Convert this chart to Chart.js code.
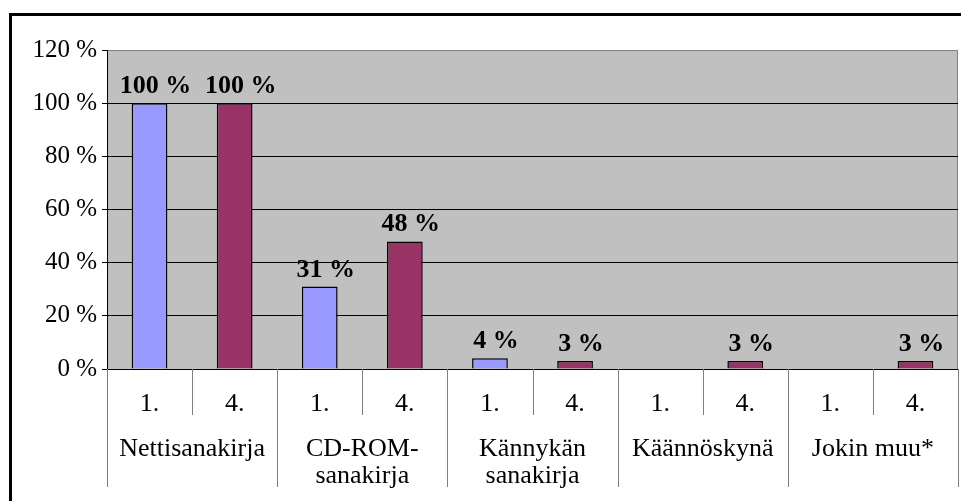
<!DOCTYPE html>
<html>
<head>
<meta charset="utf-8">
<script src="https://cdn.jsdelivr.net/npm/chart.js@4.4.1/dist/chart.umd.min.js"></script>
<style>
  html, body { margin: 0; padding: 0; background: #fff; overflow: hidden; }
  #wrap { position: relative; width: 961px; height: 501px; }
  #frame {
    position: absolute; left: 9px; top: 13px; width: 2000px; height: 2000px;
    border-top: 3px solid #000; border-left: 3px solid #000; pointer-events: none;
  }
</style>
</head>
<body>
<div id="wrap">
  <canvas id="chart" width="961" height="501"></canvas>
  <div id="frame"></div>
</div>
<script>
// data
const subLabels = ["1.", "4.", "1.", "4.", "1.", "4.", "1.", "4.", "1.", "4."];
const groupLabels = ["Nettisanakirja", ["CD-ROM-", "sanakirja"], ["Kännykän", "sanakirja"], "Käännöskynä", "Jokin muu*"];
const firstYear = [100, null, 31, null, 4, null, null, null, null, null];
const fourthYear = [null, 100, null, 48, null, 3, null, 3, null, 3];
const yTicks = [0, 20, 40, 60, 80, 100, 120];

const serif = "'Liberation Serif', 'Times New Roman', serif";
const groupLineLen = 72;

// gray plot area with gray frame
const plotBg = {
  id: "plotBg",
  beforeDraw(chart) {
    const { ctx, chartArea: a } = chart;
    ctx.save();
    ctx.fillStyle = "#c0c0c0";
    ctx.fillRect(a.left, a.top, a.right - a.left, a.bottom - a.top);
    ctx.strokeStyle = "#808080";
    ctx.lineWidth = 1;
    ctx.strokeRect(a.left + 0.5, a.top + 0.5, a.right - a.left - 1, a.bottom - a.top);
    ctx.restore();
  }
};

// category divider lines under the plot
const dividers = {
  id: "dividers",
  afterDraw(chart) {
    const { ctx } = chart;
    const xs = chart.scales.x;
    const x2 = chart.scales.x2;
    const step = (xs.right - xs.left) / subLabels.length;
    ctx.save();
    ctx.strokeStyle = "#808080";
    ctx.lineWidth = 1;
    for (let i = 0; i <= subLabels.length; i++) {
      const px = Math.round(xs.left + i * step) + 0.5;
      const end = i % 2 === 0 ? x2.top + groupLineLen : xs.bottom;
      ctx.beginPath();
      ctx.moveTo(px, xs.top);
      ctx.lineTo(px, end);
      ctx.stroke();
    }
    ctx.restore();
  }
};

// value labels above bars
const valueLabels = {
  id: "valueLabels",
  afterDatasetsDraw(chart) {
    const { ctx } = chart;
    ctx.save();
    ctx.font = "bold 26px " + serif;
    ctx.fillStyle = "#000";
    ctx.textAlign = "center";
    ctx.textBaseline = "alphabetic";
    chart.data.datasets.forEach((ds, di) => {
      const meta = chart.getDatasetMeta(di);
      meta.data.forEach((bar, i) => {
        const v = ds.data[i];
        if (v === null || v === undefined) return;
        ctx.fillText(v + " %", bar.x + 6, bar.y - 10);
      });
    });
    ctx.restore();
  }
};

new Chart(document.getElementById("chart"), {
  type: "bar",
  data: {
    labels: subLabels,
    datasets: [
      {
        label: "1.",
        data: firstYear,
        backgroundColor: "#9999ff",
        borderColor: "#000",
        borderWidth: 1.5,
        categoryPercentage: 1,
        barPercentage: 0.42,
      },
      {
        label: "4.",
        data: fourthYear,
        backgroundColor: "#993366",
        borderColor: "#000",
        borderWidth: 1.5,
        categoryPercentage: 1,
        barPercentage: 0.42,
      },
    ],
  },
  options: {
    responsive: false,
    animation: false,
    layout: { padding: { top: 50, right: 3, bottom: 0, left: 0 } },
    plugins: { legend: { display: false }, tooltip: { enabled: false } },
    scales: {
      x: {
        stacked: true,
        grid: { display: false, drawTicks: false },
        border: { display: true, color: "#000" },
        ticks: { color: "#000", font: { family: serif, size: 26 }, padding: 20, maxRotation: 0, autoSkip: false },
        afterFit(s) { s.height = 46; },
      },
      x2: {
        type: "category",
        labels: groupLabels,
        position: "bottom",
        grid: { display: false, drawTicks: false },
        border: { display: false },
        ticks: { color: "#000", font: { family: serif, size: 26, lineHeight: 1.04 }, padding: 21, maxRotation: 0, autoSkip: false },
        afterFit(s) { s.height = 86; },
      },
      y: {
        min: 0,
        max: 120,
        afterBuildTicks(s) { s.ticks = yTicks.map(v => ({ value: v })); },
        grid: {
          color: ctx => (ctx.tick && ctx.tick.value === 120 ? "#808080" : "#000"),
          tickColor: "#000",
          tickLength: 5,
        },
        border: { color: "#000" },
        ticks: { color: "#000", font: { family: serif, size: 25 }, padding: 5, callback: v => v + " %" },
        afterFit(s) { s.width = 107; },
      },
    },
  },
  plugins: [plotBg, dividers, valueLabels],
});
</script>
</body>
</html>
